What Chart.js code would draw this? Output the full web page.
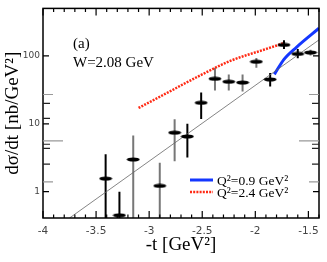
<!DOCTYPE html>
<html>
<head>
<meta charset="utf-8">
<script src="https://cdn.jsdelivr.net/npm/chart.js@4.4.1/dist/chart.umd.min.js"></script>
<style>
html, body { margin: 0; padding: 0; background: #fff; }
#wrap { width: 327px; height: 262px; }
</style>
</head>
<body>
<div id="wrap"><canvas id="c"></canvas></div>
<script>
// data points
const tData  = [-3.41, -3.28, -3.15, -2.90, -2.76, -2.64, -2.51, -2.38, -2.25, -2.12, -1.99, -1.86, -1.73, -1.60, -1.48];
const dsdt   = [1.56, 0.45, 2.98, 1.22, 7.4, 6.5, 20.4, 46, 41.6, 40.5, 82, 45, 145, 107, 112];
const errHi  = [3.55, 1.0, 6.7, 2.66, 11.7, 10, 29, 67, 53, 53, 93, 56, 170, 126, 123];
const errLo  = [0.1, 0.1, 0.1, 0.1, 2.8, 3.2, 11.8, 31, 31, 30, 67, 35.5, 126, 92, 101];
const errGray = [0, 0, 1, 1, 1, 0, 0, 1, 1, 1, 1, 0, 0, 0, 1];

// model curves
const q09T = [-1.82, -1.73, -1.61, -1.40];
const q09Y = [53.5, 89, 135, 255];
const q24T = [-3.10, -2.85, -2.54, -2.23, -1.92, -1.73];
const q24Y = [17.1, 27.5, 49.6, 85, 123, 154];
const fitT = [-3.75, -1.40];
const fitY = [0.41, 172];

// axes
const xTicks = [-4, -3.5, -3, -2.5, -2, -1.5];
const yTicks = [1, 10, 100];
const yMinor = [1.4, 2.55, 4.35, 5, 5.6, 12, 20, 27];
const yMinorLen  = [10, 7, 7, 7, 20, 7, 7, 10];
const yMinorGray = [1, 0, 0, 0, 1, 0, 0, 1];

const serif = "'Liberation Serif', 'DejaVu Serif', serif";

// elliptic marker
const mark = document.createElement('canvas');
mark.width = 14; mark.height = 5;
(function () {
    const m = mark.getContext('2d');
    m.fillStyle = '#000';
    m.beginPath();
    m.ellipse(7, 2.5, 6.5, 2, 0, 0, Math.PI * 2);
    m.fill();
})();

const pts = (xs, ys) => xs.map((x, i) => ({ x: x, y: ys[i] }));

// vertical error bars
const errorBars = {
    id: 'errorBars',
    beforeDatasetsDraw(chart) {
        const { ctx, chartArea: a, scales: { x, y } } = chart;
        ctx.save();
        ctx.beginPath();
        ctx.rect(a.left, a.top, a.right - a.left, a.bottom - a.top);
        ctx.clip();
        ctx.lineWidth = 2;
        tData.forEach((t, i) => {
            const px = x.getPixelForValue(t);
            ctx.strokeStyle = errGray[i] ? '#777' : '#000';
            ctx.beginPath();
            ctx.moveTo(px, y.getPixelForValue(errHi[i]));
            ctx.lineTo(px, y.getPixelForValue(errLo[i]));
            ctx.stroke();
        });
        ctx.restore();
    }
};

// frame, inward ticks, labels, legend
const frame = {
    id: 'frame',
    afterDraw(chart) {
        const { ctx, chartArea: a, scales: { x, y } } = chart;
        ctx.save();
        ctx.strokeStyle = '#000';
        ctx.lineWidth = 1.5;
        ctx.strokeRect(a.left, a.top, a.right - a.left, a.bottom - a.top);

        // x ticks, every 0.1
        ctx.lineWidth = 1.2;
        for (let k = -40; k <= -14; k++) {
            const v = k / 10;
            const px = x.getPixelForValue(v);
            const len = (k % 5 === 0) ? 7 : 3.5;
            ctx.beginPath();
            ctx.moveTo(px, a.bottom); ctx.lineTo(px, a.bottom - len);
            ctx.moveTo(px, a.top); ctx.lineTo(px, a.top + len);
            ctx.stroke();
        }
        // y major ticks
        yTicks.forEach(v => {
            const py = y.getPixelForValue(v);
            ctx.beginPath();
            ctx.moveTo(a.left, py); ctx.lineTo(a.left + 6, py);
            ctx.moveTo(a.right, py); ctx.lineTo(a.right - 6, py);
            ctx.stroke();
        });
        // y minor ticks
        yMinor.forEach((v, i) => {
            const py = y.getPixelForValue(v);
            ctx.strokeStyle = yMinorGray[i] ? '#999' : '#222';
            ctx.beginPath();
            ctx.moveTo(a.left, py); ctx.lineTo(a.left + yMinorLen[i], py);
            ctx.moveTo(a.right, py); ctx.lineTo(a.right - yMinorLen[i], py);
            ctx.stroke();
        });

        // panel text
        ctx.fillStyle = '#000';
        ctx.font = '15px ' + serif;
        ctx.textAlign = 'left';
        ctx.textBaseline = 'alphabetic';
        ctx.fillText('(a)', 73, 48);
        ctx.fillText('W=2.08 GeV', 73, 67);

        // legend
        const rows = [
            { ds: chart.data.datasets[2], y: 180 },
            { ds: chart.data.datasets[3], y: 192 }
        ];
        ctx.font = '13.5px ' + serif;
        ctx.textBaseline = 'middle';
        rows.forEach(r => {
            ctx.strokeStyle = r.ds.borderColor;
            ctx.lineWidth = r.ds.borderWidth;
            ctx.setLineDash(r.ds.borderDash || []);
            ctx.beginPath();
            ctx.moveTo(190, r.y); ctx.lineTo(213, r.y);
            ctx.stroke();
            ctx.setLineDash([]);
            ctx.fillStyle = '#000';
            ctx.fillText(r.ds.label, 217, r.y + 1);
        });
        ctx.restore();
    }
};

new Chart(document.getElementById('c').getContext('2d'), {
    type: 'line',
    data: {
        datasets: [
            {
                label: 'data',
                data: pts(tData, dsdt),
                showLine: false,
                pointStyle: mark,
                pointRadius: 7
            },
            {
                label: 'fit',
                data: pts(fitT, fitY),
                borderColor: '#666',
                borderWidth: 0.8,
                pointRadius: 0
            },
            {
                label: 'Q²=0.9 GeV²',
                data: pts(q09T, q09Y),
                borderColor: '#1437ff',
                borderWidth: 3,
                pointRadius: 0,
                cubicInterpolationMode: 'monotone'
            },
            {
                label: 'Q²=2.4 GeV²',
                data: pts(q24T, q24Y),
                borderColor: '#ff2a14',
                borderWidth: 2.5,
                borderDash: [2, 1.2],
                pointRadius: 0,
                cubicInterpolationMode: 'monotone'
            }
        ]
    },
    options: {
        responsive: true,
        maintainAspectRatio: false,
        animation: false,
        layout: { padding: { top: 5, right: 5, left: 0, bottom: 0 } },
        plugins: { legend: { display: false }, tooltip: { enabled: false } },
        scales: {
            x: {
                type: 'linear',
                min: -4,
                max: -1.4,
                grid: { display: false, drawTicks: false },
                border: { display: false },
                afterBuildTicks: s => { s.ticks = xTicks.map(v => ({ value: v })); },
                afterFit: s => { s.height = 44; },
                ticks: {
                    padding: 7,
                    color: '#444',
                    font: { family: "'DejaVu Sans', sans-serif", size: 10.5 },
                    callback: v => String(v)
                },
                title: {
                    display: true,
                    text: '-t [GeV²]',
                    color: '#000',
                    font: { family: serif, size: 19 },
                    padding: { top: 0, bottom: 6 }
                }
            },
            y: {
                type: 'logarithmic',
                min: 0.41,
                max: 500,
                grid: { display: false, drawTicks: false },
                border: { display: false },
                afterBuildTicks: s => { s.ticks = yTicks.map(v => ({ value: v })); },
                afterFit: s => { s.width = 43; },
                ticks: {
                    padding: 3,
                    color: '#444',
                    font: { family: "'DejaVu Sans', sans-serif", size: 9 },
                    callback: v => String(v)
                },
                title: {
                    display: true,
                    text: 'dσ/dt [nb/GeV²]',
                    color: '#000',
                    font: { family: serif, size: 19 },
                    padding: { top: 2, bottom: 0 }
                }
            }
        }
    },
    plugins: [errorBars, frame]
});
</script>
</body>
</html>
